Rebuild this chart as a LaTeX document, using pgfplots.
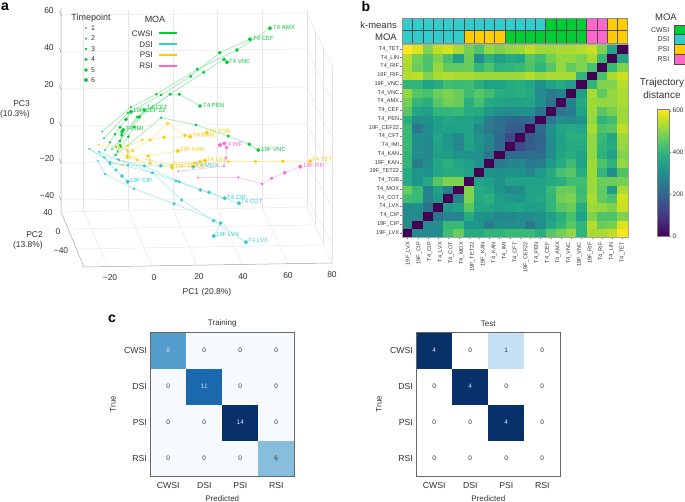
\documentclass[border=0pt]{standalone}
\usepackage{pgfplots}
\usepackage{fontspec}
\setmainfont{Liberation Sans}
\pgfplotsset{compat=1.18}

\definecolor{txt}{HTML}{333333}
\definecolor{cw}{HTML}{00CC33}
\definecolor{ds}{HTML}{33CCCC}
\definecolor{ps}{HTML}{FFCC00}
\definecolor{rs}{HTML}{FF66CC}
\definecolor{gridc}{HTML}{E6E6E6}
\definecolor{boxc}{HTML}{666666}

\newcommand\fs[1]{\fontsize{#1bp}{#1bp}\selectfont}
% text at reference pixel position (y from the top)
\newcommand\T[4][center]{\node[anchor=#1,inner sep=0pt,text=txt,align=center] at ({#2*1bp},{(502-#3)*1bp}) {#4};}
\newcommand\PL[4]{\node[anchor=west,inner sep=0pt,text=#1] at ({#2*1bp},{(502-#3)*1bp}) {\fs{6}#4};}

% cell shapes
\pgfdeclareplotmark{hcell}{\pgfpathrectangle{\pgfpoint{-5.123bp}{-4.382bp}}{\pgfpoint{10.246bp}{8.764bp}}\pgfusepathqfillstroke}
\pgfdeclareplotmark{tile}{\pgfpathrectangle{\pgfpoint{-5.123bp}{-6.125bp}}{\pgfpoint{10.246bp}{12.25bp}}\pgfusepathqfillstroke}
\pgfdeclareplotmark{ktile}{\pgfpathrectangle{\pgfpoint{-5.5bp}{-4.875bp}}{\pgfpoint{11bp}{9.75bp}}\pgfusepathqfillstroke}
\pgfdeclareplotmark{ccell}{\pgfpathrectangle{\pgfpoint{-18bp}{-17.96bp}}{\pgfpoint{36bp}{35.92bp}}\pgfusepathqfillstroke}

% one heat map row: y position, then the values left to right
\newcommand\hrow[2]{\addplot[cellplot=hcell, point meta=\thisrow{z}] table[row sep=crcr, x expr=\coordindex, y expr=#1] {z\\#2};}
\newcommand\trow[2]{\addplot[tileplot=tile, point meta=\thisrow{z}] table[row sep=crcr, x expr=\coordindex, y expr=#1] {z\\#2};}

\pgfplotsset{
  traj/.style={scatter, mark=*, draw=#1!50, line width=0.5bp,
    scatter/use mapped color={draw=#1,fill=#1},
    visualization depends on={0.55+0.25*\coordindex \as \ms},
    scatter/@pre marker code/.append style={/tikz/mark size=\ms bp}},
  cellplot/.style={scatter, only marks, mark=#1, line width=0.2bp,
    scatter/use mapped color={draw=mapped color,fill=mapped color}},
  tileplot/.style={scatter, only marks, mark=#1, line width=0.5bp,
    scatter/use mapped color={draw=black!70,fill=mapped color}},
  grl/.style={gridc, line width=0.5bp, forget plot},
  moacolors/.style={colormap={moa}{color=(cw) color=(ds) color=(ps) color=(rs)},
    colormap access=piecewise constant, point meta min=0, point meta max=3},
  conf/.style={scale only axis, width=144bp, height=143.7bp, clip=false,
    xmin=-0.5, xmax=3.5, ymin=-0.5, ymax=3.5,
    xtick={0,1,2,3}, ytick={0,1,2,3},
    xticklabels={CWSI,DSI,PSI,RSI}, yticklabels={RSI,PSI,DSI,CWSI},
    tick style={draw=none}, axis line style={draw=none},
    tick label style={font=\fs{8.7}, text=txt},
    xticklabel style={yshift=-2.5bp},
    label style={font=\fs{8}, text=txt},
    title style={font=\fs{8}, text=txt, yshift=-4bp},
    xlabel=Predicted, ylabel=True, xlabel style={yshift=-0.3bp}, ylabel style={yshift=1.5bp}},
  cellnum/.style={only marks, mark=none, nodes near coords, point meta=explicit symbolic,
    every node near coord/.append style={anchor=center, inner sep=0pt, font=\fs{6.5}, text=#1}},
}

\begin{document}
\begin{tikzpicture}
\path[use as bounding box] (0,0) rectangle (685bp,502bp);

% panel a: the projected 3d plot, in reference pixels
\begin{axis}[at={(0,0)}, anchor=south west, scale only axis, width=685bp, height=502bp,
  xmin=0, xmax=685, ymin=0, ymax=502, y dir=reverse, hide axis, clip=false]
  % back wall
  \addplot[grl] coordinates {(61,15)(307,13)};
  \addplot[grl] coordinates {(61,52)(307,49)};
  \addplot[grl] coordinates {(61,89)(307,87)};
  \addplot[grl] coordinates {(61,126)(307,124)};
  \addplot[grl] coordinates {(61,163)(307,161)};
  \addplot[grl] coordinates {(61,200)(307,198)};
  \addplot[grl] coordinates {(83,10)(83,210)};
  \addplot[grl] coordinates {(128,10)(128,209.5)};
  \addplot[grl] coordinates {(173,10)(173,209)};
  \addplot[grl] coordinates {(217,10)(217,208.5)};
  \addplot[grl] coordinates {(262,10)(262,208)};
  \addplot[grl] coordinates {(307,10)(307,207)};
  % floor
  \addplot[grl] coordinates {(61,212)(307,207)};
  \addplot[grl] coordinates {(68,229)(313,225)};
  \addplot[grl] coordinates {(76,249)(322,245)};
  \addplot[grl] coordinates {(83,210)(108,267)};
  \addplot[grl] coordinates {(128,209.5)(152,266)};
  \addplot[grl] coordinates {(173,209)(197,265.5)};
  \addplot[grl] coordinates {(217,208.5)(243,265)};
  \addplot[grl] coordinates {(262,208)(288,264)};
  \addplot[grl] coordinates {(307,207)(332,263)};
  % right wall
  \addplot[grl] coordinates {(307,13)(332,66)};
  \addplot[grl] coordinates {(307,49)(332,102)};
  \addplot[grl] coordinates {(307,87)(332,138)};
  \addplot[grl] coordinates {(307,124)(332,173)};
  \addplot[grl] coordinates {(307,161)(332,207)};
  \addplot[grl] coordinates {(307,198)(332,243)};
  \addplot[grl] coordinates {(315,30)(315,225)};
  \addplot[grl] coordinates {(323,47)(323,245)};
  \addplot[grl] coordinates {(332,66)(332,263)};
  % axis edges
  \addplot[black!35, line width=0.5bp] coordinates {(61,8)(61,212)(84,267)(332,263)};
  \addplot[black!45, line width=0.4bp] coordinates {(59.3,11)(61.3,15.7)};
  \addplot[black!45, line width=0.4bp] coordinates {(59.3,48)(61.3,52.7)};
  \addplot[black!45, line width=0.4bp] coordinates {(59.3,85)(61.3,89.7)};
  \addplot[black!45, line width=0.4bp] coordinates {(59.3,122)(61.3,126.7)};
  \addplot[black!45, line width=0.4bp] coordinates {(59.3,159)(61.3,163.7)};
  \addplot[black!45, line width=0.4bp] coordinates {(59.3,196)(61.3,200.7)};

  % CWSI
  \addplot[traj=cw] coordinates {(102.3,131.7)(130.7,107.3)(156.3,94.3)(197.3,69.3)(237,50)(270,28.3)};
  \addplot[traj=cw] coordinates {(104,138.3)(128,113)(161,95)(190.7,76.3)(219.7,52.7)(250,39.3)};
  \addplot[traj=cw] coordinates {(116,147)(137,117)(170,94.3)(203.7,72.3)(224,59.3)(227,62.3)};
  \addplot[traj=cw] coordinates {(112,149)(139,117)(170,94.3)(179.3,94.3)(200,106)};
  \addplot[traj=cw] coordinates {(105,150)(110,142.3)(115,134.3)(120,127.3)(126,119.3)(131,111.7)};
  \addplot[traj=cw] coordinates {(117.7,151.7)(121,146.7)(128.3,136.7)(134,127)(139.3,117)(144.3,110)};
  \addplot[traj=cw] coordinates {(115,155)(120,145)(120,141)(121.7,135)(122,132)(123.3,130)};
  \addplot[traj=cw] coordinates {(116,155)(161.3,117.7)(196,125)(228.3,136)(249.3,144.3)(258.3,150)};
  % PSI
  \addplot[traj=ps] coordinates {(99,145)(127.7,145.7)(142.3,140)(150,140)(164,137.3)(190.3,136.7)};
  \addplot[traj=ps] coordinates {(122,165)(128,152)(150,140)(167.7,123.3)(185,135.3)(206.7,132.7)};
  \addplot[traj=ps] coordinates {(119,147)(127,150)(132.7,150.7)(127.3,156)(148.3,156)(177.7,151)};
  \addplot[traj=ps] coordinates {(118,150)(127.3,158)(137,160)(150,163.3)(161,165.7)(172.3,167.7)};
  \addplot[traj=ps] coordinates {(174,162.3)(194,162.7)(228.3,161.7)(255.7,161.7)(282.7,161.3)(310.3,161)};
  \addplot[traj=ps] coordinates {(130,157)(150,160)(172,165)(195,163)(200,161.7)(205,160.5)};
  % RSI
  \addplot[traj=rs] coordinates {(178.3,171.3)(224,166)(226,157.7)(226.7,147.7)(224,143.3)(220,145)};
  \addplot[traj=rs] coordinates {(197.7,177.7)(238.3,177.3)(262,184)(271.7,178.3)(284.7,172.7)(300.3,166.7)};
  % DSI
  \addplot[traj=ds] coordinates {(89.3,149)(110,162)(152.3,172.7)(176,181)(200.3,190)(224.7,198.3)};
  \addplot[traj=ds] coordinates {(104,157.3)(119.3,160)(144.3,166)(179,181.7)(209,192.3)(239,203.3)};
  \addplot[traj=ds] coordinates {(99,151.7)(110,163.3)(128,165)(144.3,166)(160.7,165.7)(193.3,166.7)};
  \addplot[traj=ds] coordinates {(89.3,149)(104,157.3)(110,164)(116,170)(122,176)(127.7,181.7)};
  \addplot[traj=ds] coordinates {(99,151.7)(118.3,159.3)(152.3,172.7)(181.7,200)(213.7,220.7)(246,242.3)};
  \addplot[traj=ds] coordinates {(97.7,160.7)(105,174)(134,188.7)(174,203.7)(220.7,223)(213.7,236)};

  % legend of panel a
  \addplot[traj=cw, only marks] coordinates {(86,28)(86,38.5)(86,49)(86,59.5)(86,70)(86,80)};
  \addplot[draw=cw, line width=2bp] coordinates {(159,33.5)(177,33.5)};
  \addplot[draw=ds, line width=2bp] coordinates {(159,44.5)(177,44.5)};
  \addplot[draw=ps, line width=2bp] coordinates {(159,55)(177,55)};
  \addplot[draw=rs, line width=2bp] coordinates {(159,66)(177,66)};
\end{axis}

% panel b heat map
\begin{axis}[at={(402.3bp,264.7bp)}, anchor=south west, scale only axis, width=225.4bp, height=192.8bp,
  clip=false, xmin=-0.5, xmax=21.5, ymin=-0.5, ymax=21.5,
  xtick={0,...,21}, xticklabels={},
  ytick={0,...,21},
  yticklabels={19F\_LVX,19F\_CIP,T4\_CIP,T4\_LVX,T4\_COT,T4\_MOX,T4\_TOB,19F\_TET22,19F\_KAN,T4\_KAN,T4\_IMI,T4\_CFT,19F\_CEF22,T4\_PEN,T4\_CEF,T4\_AMX,T4\_VNC,19F\_VNC,19F\_RIF,T4\_RIF,T4\_LIN,T4\_TET},
  tick align=outside, xtick pos=bottom, ytick pos=left,
  major tick length=2bp, tick style={draw=black!50, line width=0.3bp},
  tick label style={font=\fs{5.6}, text=txt}, yticklabel style={inner sep=1bp},
  axis line style={draw=none},
  colormap/viridis, point meta min=0, point meta max=608,
  colorbar, colorbar style={at={(parent axis.south east)}, anchor=south west, xshift=20.8bp, yshift=1.3bp,
    width=12bp, height=127bp, ytick={0,200,400,600}, ytick pos=right, yticklabel pos=right,
    major tick length=2bp, tick align=outside, axis line style={draw=black!50, line width=0.6bp},
    tick style={draw=black!50},
    yticklabel style={font=\fs{6.5}, text=txt, /pgf/number format/assume math mode=true, inner sep=1.5bp}}]
  \hrow{0}{0\\290\\290\\290\\420\\470\\370\\370\\400\\400\\410\\410\\410\\380\\450\\480\\510\\400\\530\\530\\550\\600\\}
  \hrow{1}{290\\0\\290\\300\\410\\410\\320\\320\\250\\300\\290\\300\\240\\300\\360\\400\\450\\400\\540\\470\\480\\580\\}
  \hrow{2}{290\\290\\0\\230\\270\\270\\370\\310\\300\\280\\280\\290\\290\\310\\340\\380\\430\\350\\490\\440\\440\\490\\}
  \hrow{3}{290\\300\\230\\0\\330\\350\\450\\360\\360\\340\\350\\360\\340\\340\\400\\450\\470\\370\\520\\510\\490\\560\\}
  \hrow{4}{420\\410\\270\\330\\0\\260\\490\\370\\390\\340\\330\\320\\350\\360\\400\\480\\490\\420\\530\\460\\430\\570\\}
  \hrow{5}{470\\410\\270\\350\\260\\0\\490\\370\\360\\320\\280\\290\\350\\350\\410\\470\\470\\410\\520\\460\\340\\530\\}
  \hrow{6}{370\\320\\370\\450\\490\\490\\0\\350\\340\\310\\350\\350\\350\\350\\370\\380\\420\\420\\520\\470\\470\\480\\}
  \hrow{7}{370\\320\\310\\360\\370\\370\\350\\0\\310\\300\\310\\310\\280\\330\\370\\430\\450\\380\\520\\400\\300\\440\\}
  \hrow{8}{400\\250\\300\\360\\390\\360\\340\\310\\0\\240\\270\\280\\240\\250\\330\\370\\420\\350\\520\\440\\390\\510\\}
  \hrow{9}{400\\300\\280\\340\\340\\320\\310\\300\\240\\0\\210\\210\\220\\220\\300\\360\\380\\350\\510\\390\\340\\490\\}
  \hrow{10}{410\\290\\280\\350\\330\\280\\350\\310\\270\\210\\0\\130\\180\\200\\290\\350\\370\\370\\510\\400\\370\\510\\}
  \hrow{11}{410\\300\\290\\360\\320\\290\\350\\310\\280\\210\\130\\0\\170\\200\\300\\350\\380\\380\\510\\410\\360\\520\\}
  \hrow{12}{410\\240\\290\\340\\350\\350\\350\\280\\240\\220\\180\\170\\0\\210\\300\\360\\370\\360\\530\\440\\450\\550\\}
  \hrow{13}{380\\300\\310\\340\\360\\350\\350\\330\\250\\220\\200\\200\\210\\0\\240\\300\\290\\310\\510\\400\\420\\520\\}
  \hrow{14}{450\\360\\340\\400\\400\\410\\370\\370\\330\\300\\290\\300\\300\\240\\0\\230\\250\\350\\520\\450\\480\\520\\}
  \hrow{15}{480\\400\\380\\450\\480\\470\\380\\430\\370\\360\\350\\350\\360\\300\\230\\0\\270\\370\\520\\510\\510\\530\\}
  \hrow{16}{510\\450\\430\\470\\490\\470\\420\\450\\420\\380\\370\\380\\370\\290\\250\\270\\0\\340\\530\\460\\510\\530\\}
  \hrow{17}{400\\400\\350\\370\\420\\410\\420\\380\\350\\350\\370\\380\\360\\310\\350\\370\\340\\0\\400\\490\\490\\540\\}
  \hrow{18}{540\\550\\490\\530\\540\\530\\530\\520\\520\\520\\520\\520\\540\\520\\530\\530\\530\\400\\0\\430\\530\\560\\}
  \hrow{19}{530\\470\\440\\510\\460\\460\\470\\400\\440\\390\\400\\410\\440\\400\\450\\510\\460\\490\\430\\0\\410\\490\\}
  \hrow{20}{540\\480\\440\\490\\430\\340\\470\\300\\390\\340\\370\\360\\450\\420\\480\\510\\510\\490\\530\\410\\0\\360\\}
  \hrow{21}{608\\580\\490\\550\\570\\530\\480\\440\\510\\490\\510\\520\\550\\520\\520\\530\\530\\540\\560\\490\\360\\0\\}
\end{axis}

% panel b annotation rows: 0 CWSI, 1 DSI, 2 PSI, 3 RSI
\begin{axis}[at={(402.3bp,459bp)}, anchor=south west, scale only axis, width=225.4bp, height=24.5bp,
  xmin=-0.5, xmax=21.5, ymin=-0.5, ymax=1.5, xtick=\empty, ytick=\empty, clip=false,
  axis line style={draw=none}, moacolors]
  \trow{0}{1\\1\\1\\1\\1\\1\\2\\2\\2\\2\\0\\0\\0\\0\\0\\0\\0\\0\\3\\3\\2\\2\\}
  \trow{1}{1\\1\\1\\1\\1\\1\\1\\1\\1\\1\\1\\1\\1\\1\\0\\0\\0\\0\\3\\3\\2\\2\\}
\end{axis}

% panel b MOA key
\begin{axis}[at={(674bp,438bp)}, anchor=south west, scale only axis, width=11bp, height=39bp,
  xmin=-0.5, xmax=0.5, ymin=-0.5, ymax=3.5, xtick=\empty, ytick=\empty, clip=false,
  axis line style={draw=none}, moacolors]
  \addplot[tileplot=ktile, point meta=explicit]
    coordinates {(0,3)[0] (0,2)[1] (0,1)[2] (0,0)[3]};
\end{axis}

% panel c
\begin{axis}[conf, at={(150.3bp,26bp)}, anchor=south west, title=Training,
  colormap={blues}{rgb255=(247,251,255) rgb255=(222,235,247) rgb255=(198,219,239) rgb255=(158,202,225) rgb255=(107,174,214) rgb255=(66,146,198) rgb255=(33,113,181) rgb255=(8,81,156) rgb255=(8,48,107)},
  point meta min=0, point meta max=14]
  \addplot[cellplot=ccell, point meta=\thisrow{z}] table[row sep=crcr] {
x y z\\
0 0 0\\ 1 0 0\\ 2 0 0\\ 3 0 6\\
0 1 0\\ 1 1 0\\ 2 1 14\\ 3 1 0\\
0 2 0\\ 1 2 11\\ 2 2 0\\ 3 2 0\\
0 3 8\\ 1 3 0\\ 2 3 0\\ 3 3 0\\
};
  \addplot[cellnum=txt] table[row sep=crcr, meta=v] {
x y v\\
0 0 0\\ 1 0 0\\ 2 0 0\\ 3 0 6\\
0 1 0\\ 1 1 0\\ 3 1 0\\
0 2 0\\ 2 2 0\\ 3 2 0\\
1 3 0\\ 2 3 0\\ 3 3 0\\
};
  \addplot[cellnum=white!85!blue] table[row sep=crcr, meta=v] {
x y v\\
2 1 14\\ 1 2 11\\ 0 3 8\\
};
\end{axis}

\begin{axis}[conf, at={(416.3bp,26bp)}, anchor=south west, title=Test,
  colormap={bluesw}{rgb255=(255,255,255) rgb255=(222,235,247) rgb255=(198,224,245) rgb255=(158,202,225) rgb255=(107,174,214) rgb255=(66,146,198) rgb255=(33,113,181) rgb255=(8,81,156) rgb255=(8,48,107)},
  point meta min=0, point meta max=4]
  \addplot[cellplot=ccell, point meta=\thisrow{z}] table[row sep=crcr] {
x y z\\
0 0 0\\ 1 0 0\\ 2 0 0\\ 3 0 0\\
0 1 0\\ 1 1 0\\ 2 1 4\\ 3 1 0\\
0 2 0\\ 1 2 4\\ 2 2 0\\ 3 2 0\\
0 3 4\\ 1 3 0\\ 2 3 1\\ 3 3 0\\
};
  \addplot[cellnum=txt] table[row sep=crcr, meta=v] {
x y v\\
0 0 0\\ 1 0 0\\ 2 0 0\\ 3 0 0\\
0 1 0\\ 1 1 0\\ 3 1 0\\
0 2 0\\ 2 2 0\\ 3 2 0\\
1 3 0\\ 2 3 1\\ 3 3 0\\
};
  \addplot[cellnum=white!85!blue] table[row sep=crcr, meta=v] {
x y v\\
2 1 4\\ 1 2 4\\ 0 3 4\\
};
\end{axis}

% frames, over the cells
\draw[boxc, line width=0.8bp] (150.3bp,26bp) rectangle ++(144bp,143.7bp);
\draw[boxc, line width=0.8bp] (416.3bp,26bp) rectangle ++(144bp,143.7bp);
\draw[black!35, line width=0.4bp] (402.3bp,264.7bp) rectangle ++(225.4bp,192.8bp);
\draw[black!45, line width=0.5bp] (402.3bp,459bp) rectangle ++(225.4bp,24.5bp);

% panel letters
\T{5}{7}{\fs{14}\bfseries\textcolor{black}{a}}
\T{366}{6}{\fs{14}\bfseries\textcolor{black}{b}}
\T{112}{319}{\fs{14}\bfseries\textcolor{black}{c}}

% panel a text
\T{49}{11}{\fs{8.5}60}
\T{49}{48}{\fs{8.5}40}
\T{49}{85}{\fs{8.5}20}
\T{52}{122}{\fs{8.5}0}
\T{47}{159}{\fs{8.5}\textminus20}
\T{47}{196}{\fs{8.5}\textminus40}
\T{48}{213}{\fs{8.5}40}
\T{58}{232}{\fs{8.5}0}
\T{61}{251}{\fs{8.5}\textminus40}
\T{110}{278}{\fs{8.5}\textminus20}
\T{154}{278}{\fs{8.5}0}
\T{199}{277}{\fs{8.5}20}
\T{243}{277}{\fs{8.5}40}
\T{288}{276}{\fs{8.5}60}
\T{332}{275}{\fs{8.5}80}
\T{207}{292}{\fs{8.5}PC1 (20.8\%)}
\T[east]{30}{104}{\fs{8.5}PC3}
\T[east]{30}{114}{\fs{8.5}(10.3\%)}
\T[east]{43}{235}{\fs{8.5}PC2}
\T[east]{43}{245}{\fs{8.5}(13.8\%)}
\T{91}{18}{\fs{9}Timepoint}
\T{155}{19}{\fs{9}MOA}
\T[west]{91}{28}{\fs{7}1}
\T[west]{91}{38.5}{\fs{7}2}
\T[west]{91}{49}{\fs{7}3}
\T[west]{91}{59.5}{\fs{7}4}
\T[west]{91}{70}{\fs{7}5}
\T[west]{91}{80}{\fs{7}6}
\T[east]{153}{33.5}{\fs{8}CWSI}
\T[east]{153}{44.5}{\fs{8}DSI}
\T[east]{153}{55}{\fs{8}PSI}
\T[east]{153}{66}{\fs{8}RSI}

% trajectory end labels
\PL{cw}{273}{27}{T4 AMX}
\PL{cw}{253}{38}{T4 CEF}
\PL{cw}{229}{61}{T4 VNC}
\PL{cw}{203}{105}{T4 PEN}
\PL{cw}{133}{110}{19F CEF 22}
\PL{cw}{147}{107}{T4 CFT}
\PL{cw}{126}{128}{T4 IMI}
\PL{cw}{261}{149}{19F VNC}
\PL{ps}{209}{131}{T4 TOB}
\PL{ps}{193}{135}{T4 KAN}
\PL{ps}{180}{149}{19F KAN}
\PL{ps}{207}{159}{T4 LIN}
\PL{ps}{312}{159}{T4 TET}
\PL{ps}{175}{166}{19F TET22}
\PL{rs}{303}{165}{19F RIF}
\PL{rs}{224}{144}{T4 RIF}
\PL{ds}{196}{165}{T4 MOX}
\PL{ds}{130}{180}{19F CIP}
\PL{ds}{227}{197}{T4 CIP}
\PL{ds}{241}{201}{T4 COT}
\PL{ds}{216}{234.5}{19F LVX}
\PL{ds}{248}{240}{T4 LVX}

% panel b text
\T[east]{397}{25}{\fs{9.5}k-means}
\T[east]{397}{37}{\fs{9.5}MOA}
\T{666}{17}{\fs{9.5}MOA}
\T[east]{669.5}{29.8}{\fs{7}CWSI}
\T[east]{669.5}{39.5}{\fs{7}DSI}
\T[east]{669.5}{49.2}{\fs{7}PSI}
\T[east]{669.5}{59}{\fs{7}RSI}
\T{662}{83}{\fs{10}Trajectory}
\T{662}{95}{\fs{10}distance}
\foreach \n [count=\i from 0] in {19F\_LVX,19F\_CIP,T4\_CIP,T4\_LVX,T4\_COT,T4\_MOX,19F\_TET22,19F\_KAN,T4\_KAN,T4\_IMI,T4\_CFT,19F\_CEF22,T4\_PEN,T4\_CEF,T4\_AMX,T4\_VNC,19F\_VNC,19F\_RIF,T4\_RIF,T4\_LIN,T4\_TET}
  \node[rotate=90, anchor=east, inner sep=0pt, text=txt] at ({(408.3+10.7*\i)*1bp},{(502-242)*1bp}) {\fs{5.6}\n};
\end{tikzpicture}
\end{document}
